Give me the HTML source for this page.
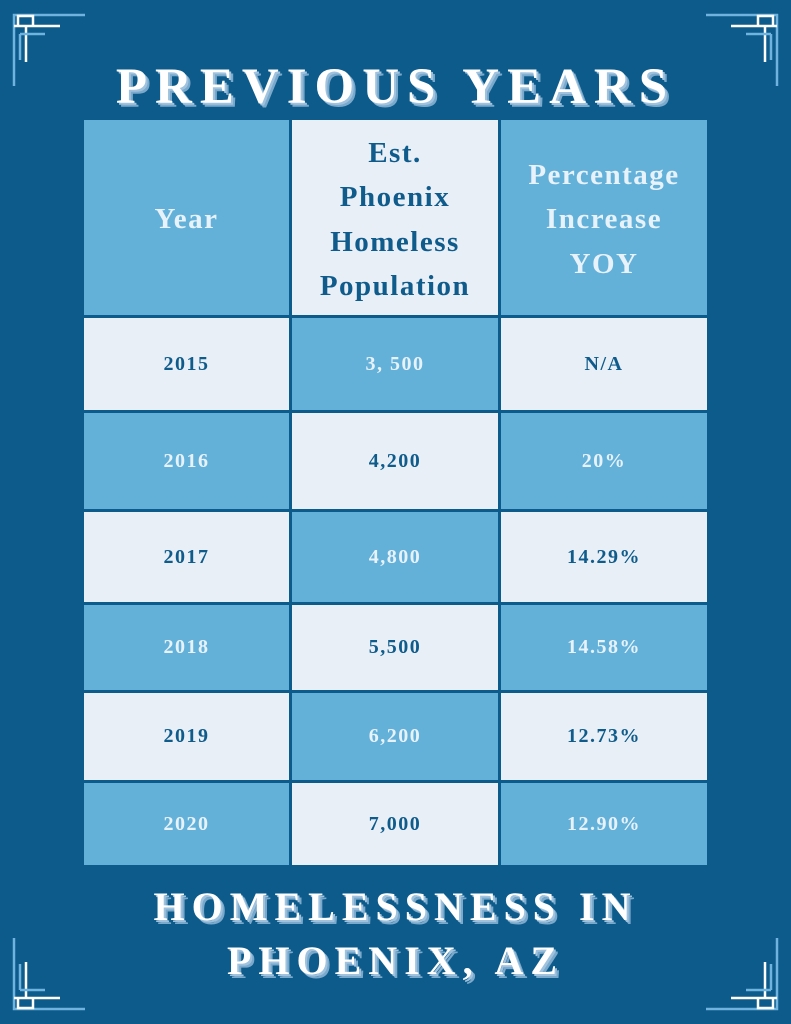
<!DOCTYPE html>
<html><head><style>
body{margin:0;width:791px;height:1024px;background:#0c5b8b;position:relative;overflow:hidden;font-family:"Liberation Serif",serif;}
.title{position:absolute;left:0;width:791px;text-align:center;color:#fff;font-weight:bold;text-shadow:2px 2px 0 #9fc3de,4px 4px 0 #7aa9cc;}
table{position:absolute;left:81px;top:117px;border-collapse:collapse;}
td{border:3px solid #0c5b8b;text-align:center;font-weight:bold;padding:0;}
.l{background:#e8eff6;color:#0f5c8c;}
.b{background:#63b1d9;color:#e8f2fa;}
td.h{font-size:29px;line-height:44.5px;letter-spacing:1.5px;padding-top:4px;}
td.d{font-size:20px;letter-spacing:1.5px;}
</style></head><body>
<svg width="791" height="1024" style="position:absolute;left:0;top:0">
<g id="c" fill="none" stroke-width="2.5">
<path d="M14 86 V15 H85" stroke="#6fb3de"/>
<path d="M18 16 H33 V26 H18 Z M26 26 V62 M14 26 H60" stroke="#fff"/>
<path d="M20 34 H45 M20 34 V60" stroke="#6fb3de"/>
</g>
<use href="#c" transform="translate(791,0) scale(-1,1)"/>
<use href="#c" transform="translate(0,1024) scale(1,-1)"/>
<use href="#c" transform="translate(791,1024) scale(-1,-1)"/>
</svg>
<div class="title" style="top:58px;font-size:51px;letter-spacing:8px;">PREVIOUS YEARS</div>
<table>
<tr style="height:198px"><td class="b h" style="width:205px">Year</td><td class="l h" style="width:206px">Est.<br>Phoenix<br>Homeless<br>Population</td><td class="b h" style="width:206px">Percentage<br>Increase<br>YOY</td></tr>
<tr style="height:95px"><td class="l d">2015</td><td class="b d">3, 500</td><td class="l d">N/A</td></tr>
<tr style="height:99px"><td class="b d">2016</td><td class="l d">4,200</td><td class="b d">20%</td></tr>
<tr style="height:93px"><td class="l d">2017</td><td class="b d">4,800</td><td class="l d">14.29%</td></tr>
<tr style="height:88px"><td class="b d">2018</td><td class="l d">5,500</td><td class="b d">14.58%</td></tr>
<tr style="height:90px"><td class="l d">2019</td><td class="b d">6,200</td><td class="l d">12.73%</td></tr>
<tr style="height:85px"><td class="b d">2020</td><td class="l d">7,000</td><td class="b d">12.90%</td></tr>
</table>
<div class="title" style="top:880px;font-size:40px;line-height:54px;letter-spacing:7px;">HOMELESSNESS IN<br>PHOENIX, AZ</div>
</body></html>
